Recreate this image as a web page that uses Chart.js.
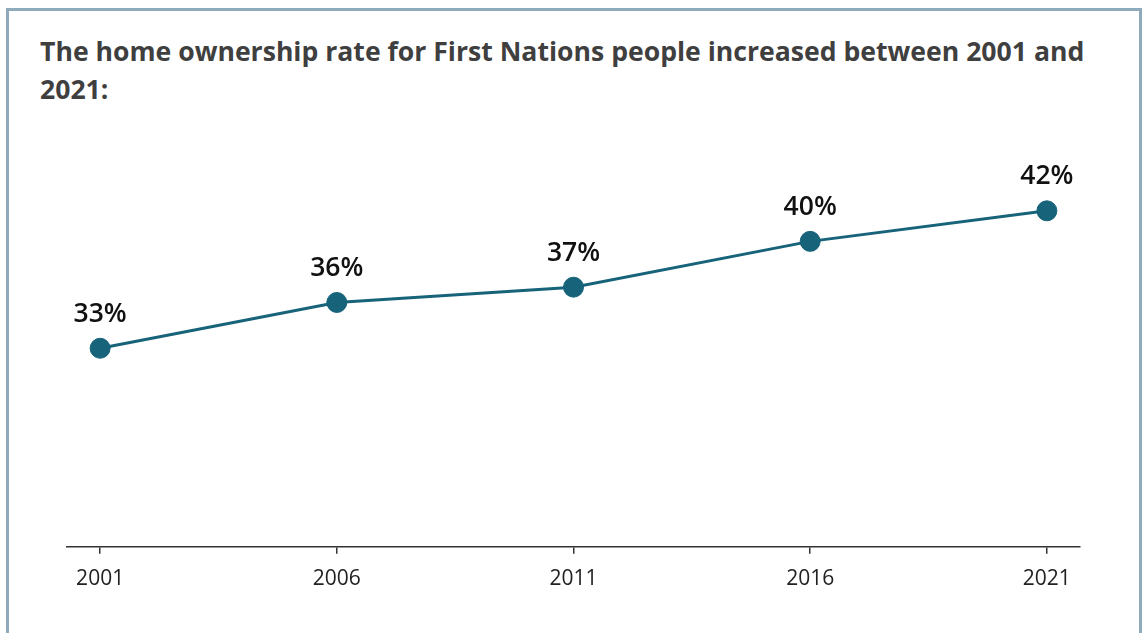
<!DOCTYPE html>
<html>
<head>
<meta charset="utf-8">
<script src="https://cdn.jsdelivr.net/npm/chart.js@4.4.1/dist/chart.umd.min.js"></script>
<style>
    html, body { margin: 0; padding: 0; background: #fff; overflow: hidden; }
    body { width: 1145px; height: 633px; position: relative; font-family: 'Open Sans', sans-serif; }
    .card {
        position: absolute;
        left: 6px; top: 8px;
        width: 1130px; height: 700px;
        border: 3px solid #8eaabb;
        border-bottom: none;
    }
    h2 {
        position: absolute;
        left: 40px; top: 32px;
        margin: 0;
        width: 1090px;
        font-size: 26.6px;
        line-height: 38px;
        font-weight: 700;
        color: #3f3f3f;
    }
    #chartWrap { position: absolute; left: 0; top: 110px; width: 1145px; height: 523px; }
</style>
</head>
<body>
<div class="card"></div>
<h2>The home ownership rate for First Nations people increased between 2001 and 2021:</h2>
<div id="chartWrap"><canvas id="ownership"></canvas></div>

<script>
// Home ownership rate, First Nations people, census years
const years = [2001, 2006, 2011, 2016, 2021];
const rates = [33, 36, 37, 40, 42];

const LINE_COLOR = '#17637a';

// Draws "NN%" above each point
const pointLabels = {
    id: 'pointLabels',
    afterDatasetsDraw(chart) {
        const { ctx } = chart;
        const meta = chart.getDatasetMeta(0);
        ctx.save();
        ctx.font = '600 26.5px "Open Sans"';
        ctx.fillStyle = '#111';
        ctx.textAlign = 'center';
        ctx.textBaseline = 'middle';
        meta.data.forEach((pt, i) => {
            ctx.fillText(rates[i] + '%', pt.x, pt.y - 34);
        });
        ctx.restore();
    }
};

new Chart(document.getElementById('ownership'), {
    type: 'line',
    data: {
        datasets: [{
            data: years.map((y, i) => ({ x: y, y: rates[i] })),
            borderColor: LINE_COLOR,
            backgroundColor: LINE_COLOR,
            borderWidth: 3,
            pointRadius: 10,
            pointHoverRadius: 10,
            pointBackgroundColor: LINE_COLOR,
            pointBorderColor: LINE_COLOR,
            pointBorderWidth: 1,
            tension: 0,
        }]
    },
    options: {
        responsive: true,
        maintainAspectRatio: false,
        animation: false,
        layout: { padding: { left: 67, right: 65, top: 55, bottom: 28 } },
        plugins: {
            legend: { display: false },
            tooltip: { enabled: false },
        },
        scales: {
            x: {
                type: 'linear',
                min: 2000.3,
                max: 2021.7,
                afterBuildTicks: scale => { scale.ticks = years.map(v => ({ value: v })); },
                grid: { drawOnChartArea: false, drawTicks: true, tickLength: 7, color: '#333', lineWidth: 1.5 },
                border: { display: true, color: '#333', width: 1.5 },
                ticks: {
                    color: '#222',
                    padding: 13,
                    font: { size: 21, family: 'Open Sans' },
                    callback: v => String(v),
                    maxRotation: 0,
                },
            },
            y: {
                display: false,
                min: 20,
                max: 45,
            }
        }
    },
    plugins: [pointLabels]
});
</script>
</body>
</html>
